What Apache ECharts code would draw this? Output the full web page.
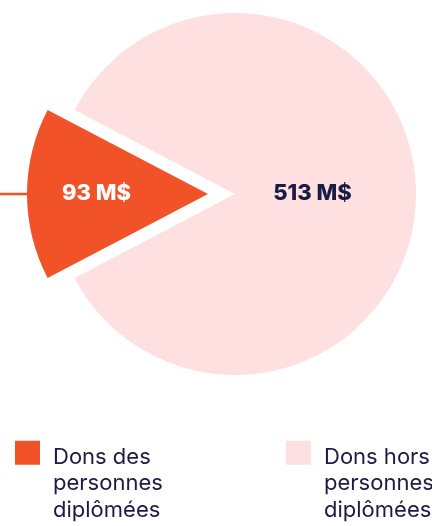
<!DOCTYPE html>
<html><head><meta charset="utf-8">
<script src="https://cdn.jsdelivr.net/npm/echarts@6/dist/echarts.min.js"></script>
<style>html,body{margin:0;padding:0;background:#fff}#c{width:432px;height:526px}</style>
</head><body><div id="c"></div>
<script>
const categories = ['Dons des\npersonnes\ndiplômées', 'Dons hors\npersonnes\ndiplômées'];
const values = [93, 513];
const labels = ['93 M$', '513 M$'];
const colors = ['#F15227', '#FDE0DF'];
const labelColors = ['#ffffff', '#1B1C44'];

const chart = echarts.init(document.getElementById('c'), null, {renderer: 'canvas'});
const span = values[0] / (values[0] + values[1]) * 360;
const startAngle = 180 + span / 2;
const center = [235, 194];
const radius = 181;

const offsets = [[-18, -1], [-16, -1]];
const data = categories.map((n, i) => ({
  name: n, value: values[i],
  selected: i === 0,
  itemStyle: {color: colors[i]},
  label: {formatter: labels[i], color: labelColors[i], offset: offsets[i]},
  select: {label: {offset: offsets[i], color: labelColors[i]}}
}));

const legendText = {
  fontFamily: 'Inter', fontSize: 22, color: '#1B1C44', lineHeight: 26.5,
  padding: [0, 0, 0, 8],
  rich: {g: {lineHeight: 62, fontSize: 1}}
};
const legendBase = {
  top: 382, padding: 0, itemWidth: 25, itemHeight: 24, itemGap: 0, icon: 'rect',
  selectedMode: false, textStyle: legendText,
  formatter: n => '{g|}\n' + n
};

chart.setOption({
  animation: false,
  legend: [
    Object.assign({data: [categories[0]], left: 15}, legendBase),
    Object.assign({data: [categories[1]], left: 286}, legendBase)
  ],
  series: [
    {
      type: 'pie', center: center, radius: radius, startAngle: startAngle,
      clockwise: true, selectedMode: 'single', selectedOffset: 27,
      data: data,
      label: {show: true, position: 'inside', fontFamily: 'Inter', fontSize: 22, fontWeight: 800},
      labelLine: {show: false},
      emphasis: {disabled: true}
    },
    {
      type: 'pie', center: center, radius: radius, startAngle: startAngle,
      clockwise: true, selectedMode: 'single', selectedOffset: 27, silent: true,
      legendHoverLink: false,
      data: categories.map((n, i) => ({
        name: n + ' ', value: values[i], selected: i === 0,
        itemStyle: {color: 'transparent'},
        label: {show: i === 0, formatter: ' '},
        labelLine: {show: i === 0}
      })),
      label: {position: 'outside', fontSize: 1},
      labelLine: {length: 1, length2: 40, lineStyle: {color: colors[0], width: 2.5}},
      emphasis: {disabled: true}
    }
  ]
});
</script></body></html>
